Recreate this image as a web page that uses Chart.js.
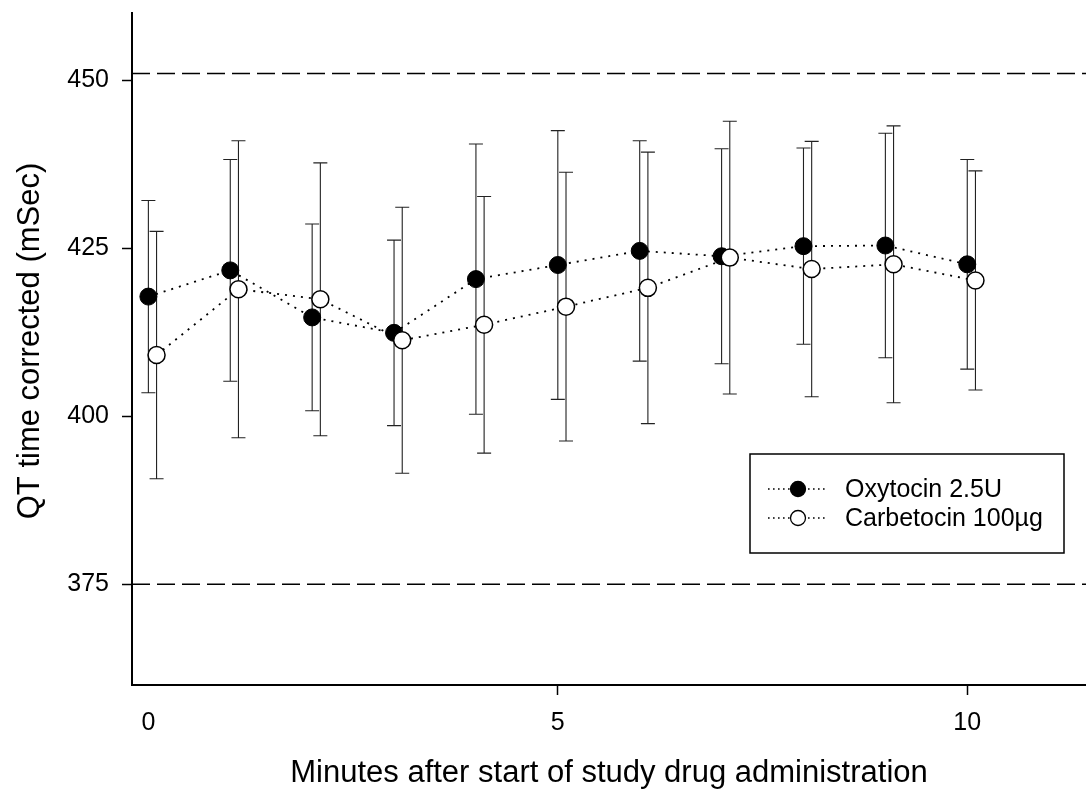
<!DOCTYPE html>
<html>
<head>
<meta charset="utf-8">
<title>QT time corrected</title>
<script src="https://cdn.jsdelivr.net/npm/chart.js@4/dist/chart.umd.min.js"></script>
<style>
  html, body { margin: 0; padding: 0; background: #fff; }
  canvas { display: block; }
</style>
</head>
<body>
<canvas id="qt" width="1086" height="799"></canvas>
<script>
// Minutes after the start of study drug administration
const minutes = [0, 1, 2, 3, 4, 5, 6, 7, 8, 9, 10];

// QTc means and standard deviations (mSec)
const oxytocinMean  = [417.8, 421.7, 414.7, 412.4, 420.4, 422.5, 424.6, 423.8, 425.3, 425.4, 422.6];
const oxytocinSD    = [14.3, 16.5, 13.9, 13.8, 20.1, 20.0, 16.4, 16.0, 14.6, 16.7, 15.6];
const carbetocinMean = [409.1, 418.9, 417.4, 411.3, 413.6, 416.3, 419.1, 423.6, 421.9, 422.6, 420.2];
const carbetocinSD   = [18.4, 22.1, 20.3, 19.8, 19.1, 20.0, 20.2, 20.3, 19.0, 20.6, 16.3];

const seriesNames = ['Oxytocin 2.5U', 'Carbetocin 100\u00b5g'];

// Normal range limits drawn as dashed lines
const referenceLimits = [451, 375];

// Tick labels
const xTickValues = [0, 5, 10];
const yTickValues = [375, 400, 425, 450];

const xTitle = 'Minutes after start of study drug administration';
const yTitle = 'QT time corrected (mSec)';

// Carbetocin is nudged right so its bars do not hide the oxytocin bars
const carbetocinShift = 0.1;

const X_MIN = -0.2, X_MAX = 11.45, Y_MIN = 360, Y_MAX = 460;
const FONT = "'Liberation Sans', Arial, Helvetica, sans-serif";

Chart.defaults.font.family = FONT;
Chart.defaults.color = '#000';

const oxyPoints = minutes.map((m, i) => ({ x: m, y: oxytocinMean[i], sd: oxytocinSD[i] }));
const carbPoints = minutes.map((m, i) => ({ x: m + carbetocinShift, y: carbetocinMean[i], sd: carbetocinSD[i] }));

// Vertical mean ± SD bars with caps, drawn under the markers
const errorBars = {
  id: 'errorBars',
  beforeDatasetsDraw(chart) {
    const { ctx, scales: { x, y } } = chart;
    ctx.save();
    ctx.strokeStyle = '#222';
    ctx.lineWidth = 1.1;
    const cap = 7;
    [0, 1].forEach(di => {
      chart.data.datasets[di].data.forEach(p => {
        const px = x.getPixelForValue(p.x);
        const top = y.getPixelForValue(p.y + p.sd);
        const bot = y.getPixelForValue(p.y - p.sd);
        ctx.beginPath();
        ctx.moveTo(px, top); ctx.lineTo(px, bot);
        ctx.moveTo(px - cap, top); ctx.lineTo(px + cap, top);
        ctx.moveTo(px - cap, bot); ctx.lineTo(px + cap, bot);
        ctx.stroke();
      });
    });
    ctx.restore();
  }
};

// Rotated y-axis title
const yAxisTitle = {
  id: 'yAxisTitle',
  afterDraw(chart) {
    const { ctx } = chart;
    ctx.save();
    ctx.translate(30, 341);
    ctx.rotate(-Math.PI / 2);
    ctx.font = '31px ' + FONT;
    ctx.fillStyle = '#000';
    ctx.textAlign = 'center';
    ctx.textBaseline = 'middle';
    ctx.fillText(yTitle, 0, 0);
    ctx.restore();
  }
};

// Boxed legend inside the plot area
const boxedLegend = {
  id: 'boxedLegend',
  afterDraw(chart) {
    const { ctx } = chart;
    const bx = 750, by = 454, bw = 314, bh = 99;
    ctx.save();
    ctx.fillStyle = '#fff';
    ctx.fillRect(bx, by, bw, bh);
    ctx.strokeStyle = '#000';
    ctx.lineWidth = 1.5;
    ctx.strokeRect(bx, by, bw, bh);
    const rows = [489, 518];
    [0, 1].forEach(i => {
      const ds = chart.data.datasets[i];
      const cy = rows[i];
      ctx.save();
      ctx.setLineDash([1.6, 3.4]);
      ctx.lineWidth = 1.4;
      ctx.strokeStyle = '#000';
      ctx.beginPath();
      ctx.moveTo(768, cy); ctx.lineTo(826, cy);
      ctx.stroke();
      ctx.restore();
      ctx.beginPath();
      ctx.arc(798, cy, 7.5, 0, Math.PI * 2);
      ctx.fillStyle = ds.pointBackgroundColor;
      ctx.fill();
      ctx.lineWidth = 1.3;
      ctx.strokeStyle = '#000';
      ctx.stroke();
      ctx.fillStyle = '#000';
      ctx.font = '25px ' + FONT;
      ctx.textBaseline = 'middle';
      ctx.textAlign = 'left';
      ctx.fillText(ds.label, 845, cy + 1);
    });
    ctx.restore();
  }
};

const dotted = { borderColor: '#000', borderWidth: 1.8, borderDash: [2, 6], borderCapStyle: 'butt', tension: 0, fill: false };

new Chart(document.getElementById('qt'), {
  type: 'line',
  data: {
    datasets: [
      Object.assign({}, dotted, {
        label: seriesNames[0], data: oxyPoints, order: 2,
        pointRadius: 8.5, pointBackgroundColor: '#000', pointBorderColor: '#000', pointBorderWidth: 1
      }),
      Object.assign({}, dotted, {
        label: seriesNames[1], data: carbPoints, order: 1,
        pointRadius: 8.5, pointBackgroundColor: '#fff', pointBorderColor: '#000', pointBorderWidth: 1.5
      }),
      ...referenceLimits.map(v => ({
        label: 'limit ' + v,
        data: [{ x: X_MIN, y: v }, { x: X_MAX, y: v }],
        borderColor: '#000', borderWidth: 1.5, borderDash: [18, 7],
        pointRadius: 0, order: 3, fill: false
      }))
    ]
  },
  options: {
    responsive: false,
    animation: false,
    devicePixelRatio: 1,
    layout: { autoPadding: false, padding: { top: 13, right: 0, bottom: 0, left: 0 } },
    plugins: { legend: { display: false }, tooltip: { enabled: false } },
    scales: {
      x: {
        type: 'linear', min: X_MIN, max: X_MAX,
        afterBuildTicks: s => { s.ticks = xTickValues.map(v => ({ value: v })); },
        afterFit: s => { s.height = 114; s.paddingLeft = 0; s.paddingRight = 0; },
        grid: {
          display: true, drawOnChartArea: false, drawTicks: true, tickLength: 10, tickWidth: 1.5,
          tickColor: c => (c.tick && c.tick.value === 0) ? 'rgba(0,0,0,0)' : '#000'
        },
        border: { display: true, color: '#000', width: 2 },
        ticks: { font: { size: 25 }, color: '#000', padding: 13, maxRotation: 0, autoSkip: false },
        title: { display: true, text: xTitle, color: '#000', font: { size: 31 }, padding: { top: 0, bottom: 7 } }
      },
      y: {
        type: 'linear', min: Y_MIN, max: Y_MAX,
        afterBuildTicks: s => { s.ticks = yTickValues.map(v => ({ value: v })); },
        afterFit: s => { s.width = 132; s.paddingTop = 0; s.paddingBottom = 0; },
        grid: { display: true, drawOnChartArea: false, drawTicks: true, tickLength: 10, tickWidth: 1.5, tickColor: '#000' },
        border: { display: true, color: '#000', width: 2 },
        ticks: { font: { size: 25 }, color: '#000', padding: 13, autoSkip: false },
        title: { display: false }
      }
    }
  },
  plugins: [errorBars, yAxisTitle, boxedLegend]
});
</script>
</body>
</html>
